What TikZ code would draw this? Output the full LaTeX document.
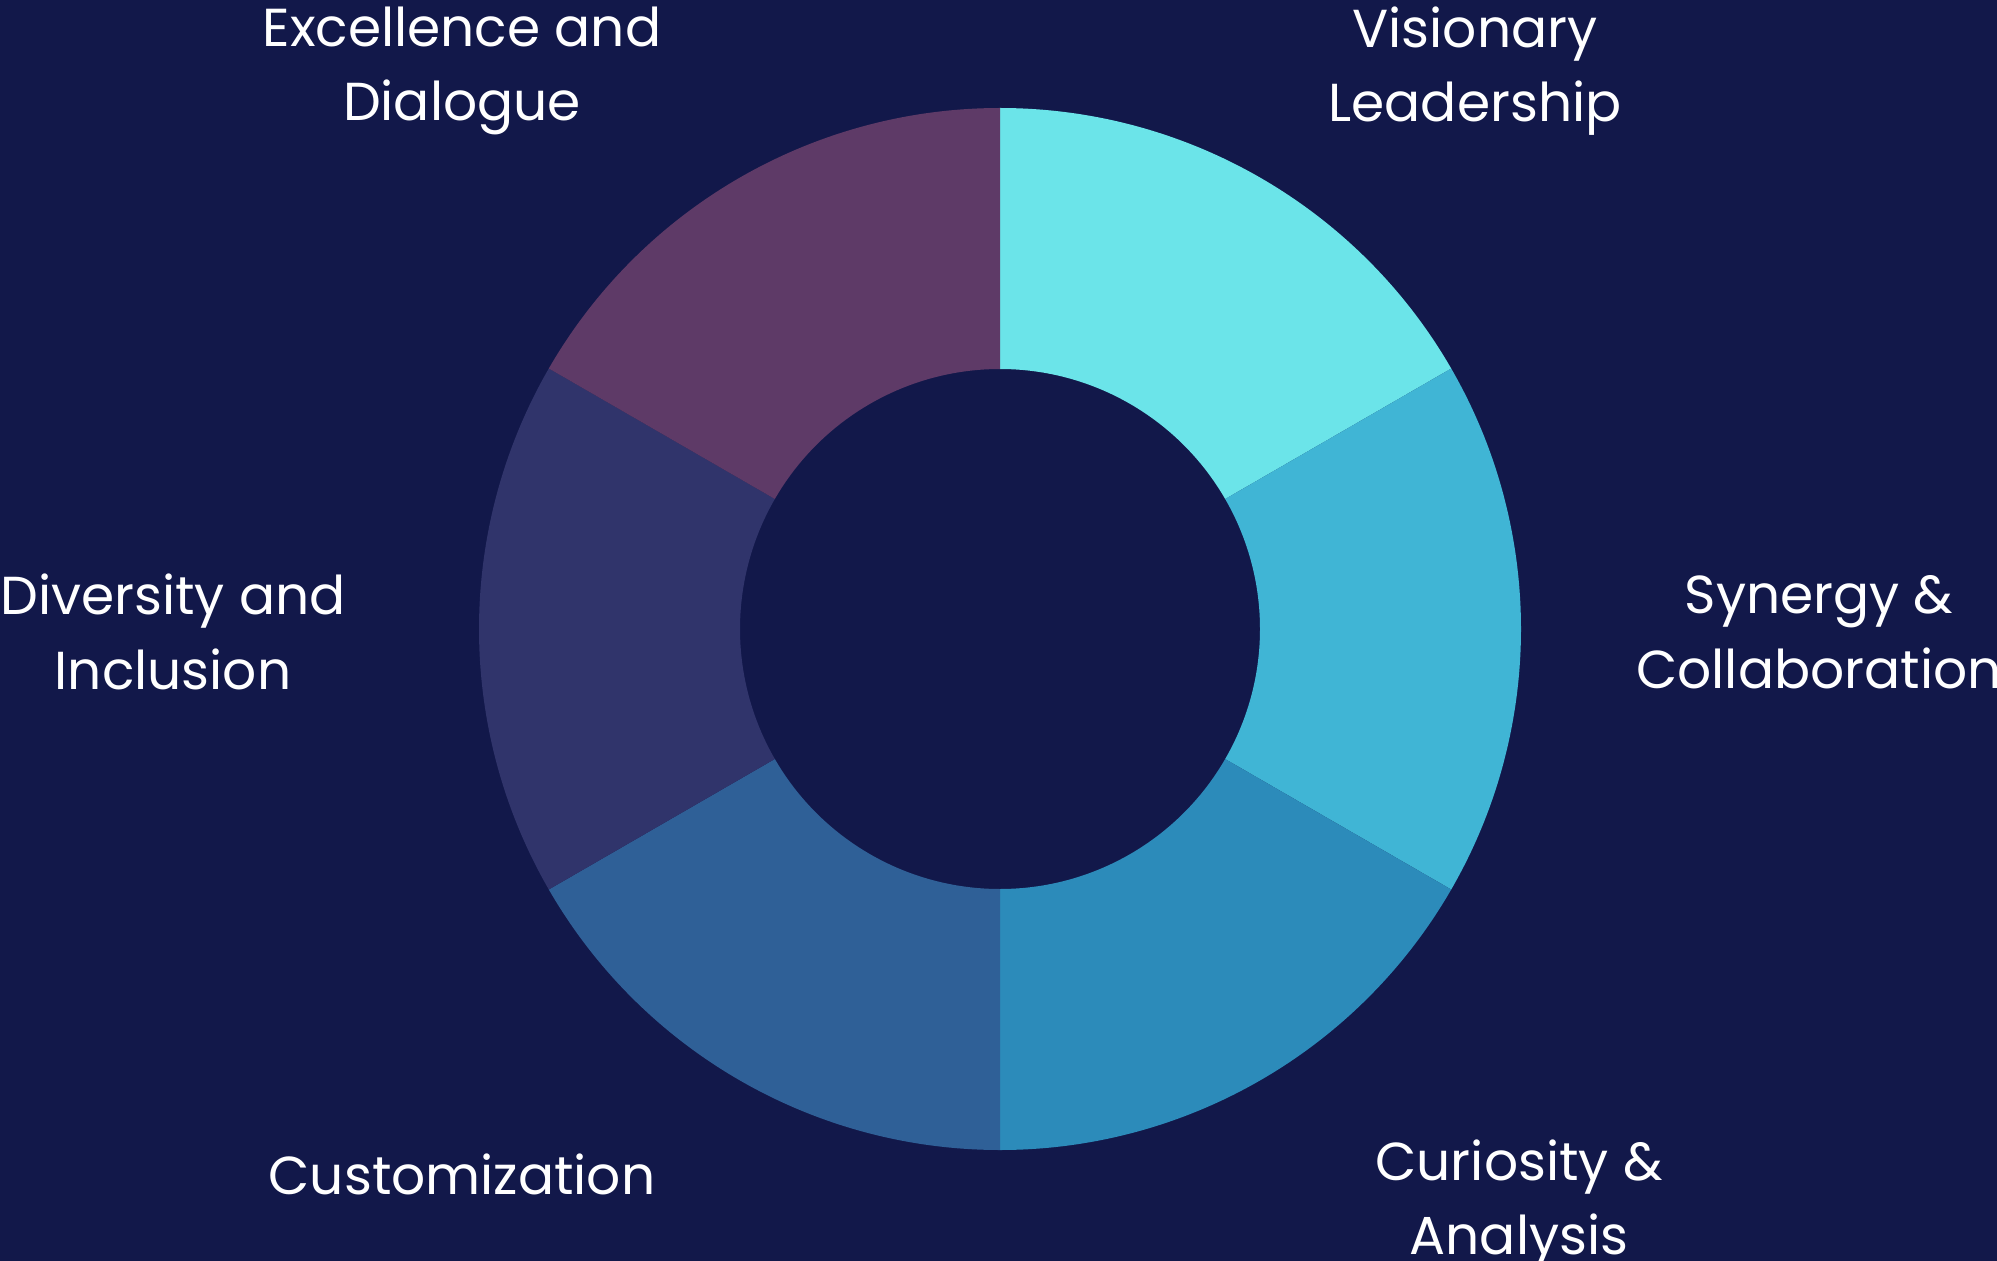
\documentclass[tikz,border=0pt]{standalone}
\usepackage{fontspec}
\setmainfont{Poppins}
\usetikzlibrary{calc,positioning}
\definecolor{bgnavy}{HTML}{12184A}
\definecolor{cvis}{HTML}{6BE4E9}
\definecolor{csyn}{HTML}{40B5D5}
\definecolor{ccur}{HTML}{2C8BBA}
\definecolor{ccus}{HTML}{2F6097}
\definecolor{cdiv}{HTML}{30346B}
\definecolor{cexc}{HTML}{5E3A67}

\begin{document}
\begin{tikzpicture}[x=0.01cm, y=-0.01cm,
  lbl/.style={text=white, align=center, font=\fontsize{15.2}{21.2}\selectfont, inner sep=0pt}]
  \fill[bgnavy] (0,0) rectangle (1997,1261);
  \useasboundingbox (0,0) rectangle (1997,1261);
  \coordinate (ctr) at (1000,629);
  % ring segments
  \foreach \a/\c in {-90/cvis, -30/csyn, 30/ccur, 90/ccus, 150/cdiv, 210/cexc}{
    \pgfmathsetmacro{\b}{\a+60}
    \fill[\c] ($(ctr)+(\a:521)$) arc[start angle=\a, end angle=\b, radius=521]
      -- ($(ctr)+(\b:260)$) arc[start angle=\b, end angle=\a, radius=260] -- cycle;
  }
  \node[lbl] (vis) at (1475,71) {Visionary\\Leadership};
  \node[lbl] (syn) at (1819,632) {Synergy \&\\Collaboration};
  \node[lbl] (cur) at (1519,1204) {Curiosity \&\\Analysis};
  \node[lbl] (cus) at (462,1174) {Customization};
  \node[lbl] (div) at (173,632) {Diversity and\\Inclusion};
  \node[lbl] (exc) at (462,71) {Excellence and\\Dialogue};
\end{tikzpicture}
\end{document}
